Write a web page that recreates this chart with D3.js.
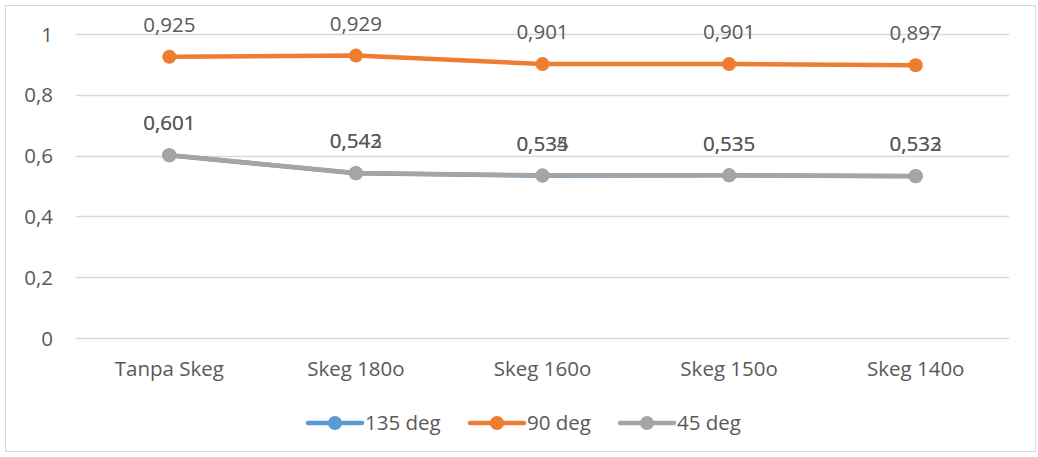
<!DOCTYPE html>
<html>
<head>
<meta charset="utf-8">
<script src="https://cdn.jsdelivr.net/npm/d3@7"></script>
<style>
  html, body { margin: 0; padding: 0; background: #fff; }
  svg text { font-family: "Open Sans", "Noto Sans", sans-serif; fill: #595959; }
</style>
</head>
<body>
<svg id="chart" width="1038" height="457"></svg>
<script>
// Categories and series values
const categories = ["Tanpa Skeg", "Skeg 180o", "Skeg 160o", "Skeg 150o", "Skeg 140o"];
const seriesNames = ["135 deg", "90 deg", "45 deg"];
const values135 = [0.601, 0.542, 0.534, 0.535, 0.532];
const values90 = [0.925, 0.929, 0.901, 0.901, 0.897];
const values45 = [0.601, 0.543, 0.535, 0.535, 0.533];
const yTicks = [0, 0.2, 0.4, 0.6, 0.8, 1];
const colors = ["#5B9BD5", "#ED7D31", "#A5A5A5"];

const series = [
  { name: seriesNames[0], values: values135, color: colors[0] },
  { name: seriesNames[1], values: values90, color: colors[1] },
  { name: seriesNames[2], values: values45, color: colors[2] }
];

const FONT = 20.5;
const svg = d3.select("#chart");
const fmt = v => d3.format(".3f")(v).replace(".", ",");
const fmtTick = v => String(v).replace(".", ",");

// Outer chart frame
svg.append("rect")
  .attr("x", 5.5).attr("y", 5.5)
  .attr("width", 1030).attr("height", 446)
  .attr("fill", "#fff").attr("stroke", "#d9d9d9").attr("stroke-width", 1);

const plot = { left: 76, right: 1009, top: 34, bottom: 338 };

const x = d3.scaleBand().domain(categories).range([plot.left, plot.right]);
const y = d3.scaleLinear().domain([0, 1]).range([plot.bottom, plot.top]);

// Horizontal gridlines
svg.append("g").selectAll("line").data(yTicks).join("line")
  .attr("x1", plot.left).attr("x2", plot.right)
  .attr("y1", d => Math.round(y(d)) + 0.5).attr("y2", d => Math.round(y(d)) + 0.5)
  .attr("stroke", "#d9d9d9").attr("stroke-width", 1.3);

// Y axis labels
const yAxis = d3.axisLeft(y).tickValues(yTicks).tickFormat(fmtTick).tickSize(0).tickPadding(0);
const gy = svg.append("g").attr("transform", `translate(${plot.left - 23},0)`).call(yAxis);
gy.select(".domain").remove();
gy.selectAll("text").attr("font-size", FONT).style("font-family", null).attr("fill", "#595959")
  .attr("dy", "0.35em");

// X axis labels
const xAxis = d3.axisBottom(x).tickSize(0).tickPadding(0);
const gx = svg.append("g").attr("transform", `translate(0,${plot.bottom + 31})`).call(xAxis);
gx.select(".domain").remove();
gx.selectAll("text").attr("font-size", FONT).attr("fill", "#595959").attr("dy", "0.35em");

const cx = c => x(c) + x.bandwidth() / 2;

const line = d3.line().x((d, i) => cx(categories[i])).y(d => y(d));

// Lines and markers for each series
series.forEach(s => {
  const g = svg.append("g");
  g.append("path").datum(s.values)
    .attr("d", line).attr("fill", "none")
    .attr("stroke", s.color).attr("stroke-width", 4.5)
    .attr("stroke-linejoin", "round").attr("stroke-linecap", "round");
  g.selectAll("circle").data(s.values).join("circle")
    .attr("cx", (d, i) => cx(categories[i])).attr("cy", d => y(d))
    .attr("r", 7).attr("fill", s.color);
});

// Value labels above each point
series.forEach(s => {
  svg.append("g").selectAll("text").data(s.values).join("text")
    .attr("x", (d, i) => cx(categories[i])).attr("y", d => y(d) - 32)
    .attr("text-anchor", "middle").attr("dy", "0.35em")
    .attr("font-size", FONT).attr("fill", "#404040")
    .text(d => fmt(d));
});

// Legend
const legendX = [308, 470, 620];
const legend = svg.append("g");
series.forEach((s, i) => {
  const lg = legend.append("g").attr("transform", `translate(${legendX[i]},423)`);
  lg.append("line").attr("x1", 0).attr("x2", 54).attr("y1", 0).attr("y2", 0)
    .attr("stroke", s.color).attr("stroke-width", 4.5).attr("stroke-linecap", "round");
  lg.append("circle").attr("cx", 27).attr("cy", 0).attr("r", 7).attr("fill", s.color);
  lg.append("text").attr("x", 57).attr("y", 0).attr("dy", "0.35em")
    .attr("font-size", FONT).attr("fill", "#595959").text(s.name);
});
</script>
</body>
</html>
